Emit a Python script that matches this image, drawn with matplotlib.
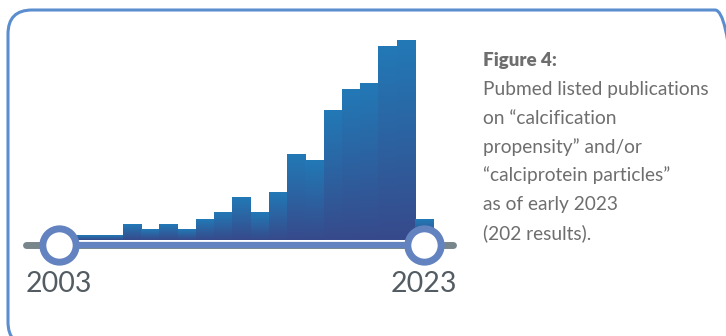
import numpy as np
import matplotlib.pyplot as plt
from matplotlib import patches
from matplotlib.colors import LinearSegmentedColormap

# data
years = list(range(2003, 2024))
counts = [0.9, 0.9, 0.9, 0.9, 2.9, 1.95, 2.9, 1.95, 3.8, 5.0, 7.8, 5.0, 8.7,
          15.6, 14.5, 23.5, 27.3, 28.4, 35.1, 36.2, 3.8]
range_years = [2003, 2023]
range_labels = ["2003", "2023"]
caption_title = "Figure 4:"
caption_lines = ["Pubmed listed publications",
                 "on \u201ccalcification",
                 "propensity\u201d and/or",
                 "\u201ccalciprotein particles\u201d",
                 "as of early 2023",
                 "(202 results)."]

# styles
W, H = 726, 336
FONT = "Lato"
BORDER = "#5b8ecf"
BAR_TOP = "#2279b6"
BAR_BOTTOM = "#374a8b"
TRACK = "#78868c"
SLIDER = "#6383c0"
LABEL = "#535c62"
TEXT = "#6e6e6e"
PX_PER_YEAR = 18.25
PX_PER_UNIT = 5.5
BASE_PX = 96

fig = plt.figure(figsize=(W / 100, H / 100), dpi=100)

# background axes in pixel coordinates (origin bottom-left)
bg = fig.add_axes([0, 0, 1, 1])
bg.set_xlim(0, W)
bg.set_ylim(0, H)
bg.axis("off")

# rounded frame, running off the right and bottom edges
frame = patches.FancyBboxPatch((8, -10), 731, 336, boxstyle="round,pad=0,rounding_size=24",
                               fill=False, ec=BORDER, lw=2.2)
bg.add_patch(frame)

# chart axes
x0 = range_years[0] - 1
left_px = 59 - PX_PER_YEAR
ax = fig.add_axes([left_px / W, BASE_PX / H, 22 * PX_PER_YEAR / W, 220 / H])
ax.axis("off")
ax.patch.set_alpha(0)

cmap = LinearSegmentedColormap.from_list("bars", [BAR_BOTTOM, BAR_TOP])
grad = np.linspace(0, 1, 128).reshape(-1, 1)
for year, value in zip(years, counts):
    ax.imshow(grad, cmap=cmap, extent=(year - 0.5, year + 0.5, 0, value),
              origin="lower", aspect="auto", zorder=2, interpolation="bilinear")

track_y = -0.9
ax.plot([2001.2, 2024.6], [track_y, track_y], color=TRACK, lw=5,
        solid_capstyle="round", clip_on=False, zorder=3)
ax.plot(range_years, [track_y, track_y], color=SLIDER, lw=4.5, clip_on=False, zorder=4)
ax.plot(range_years, [track_y, track_y], "o", ms=24, mfc="white", mec=SLIDER, mew=5,
        clip_on=False, zorder=5)

ax.set_xlim(x0, range_years[1] + 1)
ax.set_ylim(0, 220 / PX_PER_UNIT)

for yr, lab in zip(range_years, range_labels):
    px = left_px + (yr - x0) * PX_PER_YEAR
    bg.text(px, H - 284, lab, ha="center", va="center", fontsize=20.5, family=FONT, color=LABEL)

# caption
bg.text(483, H - 66, caption_title, fontsize=13.5, fontweight="heavy", family=FONT,
        color=TEXT, va="baseline")
for i, line in enumerate(caption_lines):
    bg.text(483, H - (95 + 28.8 * i), line, fontsize=13.8, family=FONT, color=TEXT,
            va="baseline")

fig.savefig("out.png", dpi=100)
